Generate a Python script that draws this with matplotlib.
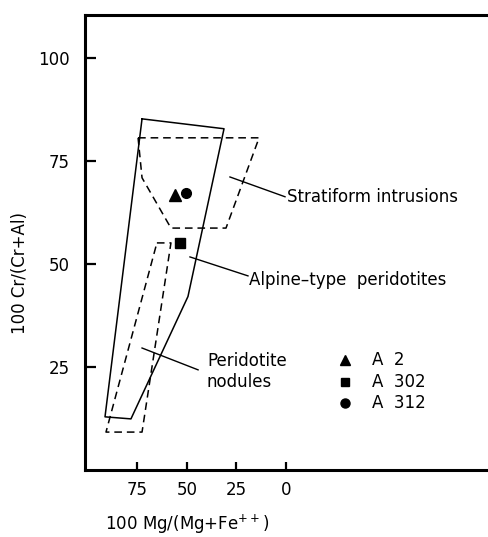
import matplotlib
matplotlib.use("Agg")
import matplotlib.pyplot as plt

plt.rcParams['font.family'] = ['DejaVu Sans']

# Fields (x = 100 Mg/(Mg+Fe++), y = 100 Cr/(Cr+Al))
alpine_x = [72.7, 31.3, 49.5, 78.3, 91.4]
alpine_y = [85.2, 82.8, 42.1, 12.4, 12.9]

strat_x = [74.7, 13.6, 30.3, 58.1, 72.7]
strat_y = [80.6, 80.6, 58.7, 58.7, 70.9]

nod_x = [65.2, 58.1, 72.7, 90.9]
nod_y = [55.1, 55.1, 9.2, 9.2]

# Samples
samples = ["A 2", "A 302", "A 312"]
sample_x = [56.1, 53.5, 50.5]
sample_y = [66.7, 55.1, 67.2]
sample_markers = ["^", "s", "o"]

xticks = [75, 50, 25, 0]
yticks = [25, 50, 75, 100]

fig = plt.figure(figsize=(4.88, 5.37), dpi=100)
ax = fig.add_axes([85/488, 67/537, 403/488, 455/537])
ax.set_xlim(101.5, -102)
ax.set_ylim(0, 110.4)

lw = 1.1
ax.fill([], [])
ax.plot(alpine_x + alpine_x[:1], alpine_y + alpine_y[:1], color='black', lw=lw)
ax.plot(strat_x + strat_x[:1], strat_y + strat_y[:1], color='black', lw=lw,
        linestyle=(0, (5, 3.2)))
ax.plot(nod_x + nod_x[:1], nod_y + nod_y[:1], color='black', lw=lw,
        linestyle=(0, (5, 3.2)))

msize = {"^": 8, "s": 6.5, "o": 7}
for x, y, m in zip(sample_x, sample_y, sample_markers):
    ax.plot([x], [y], marker=m, color='black', markersize=msize[m], linestyle='none')

# Leader lines and labels
fs = 12
ax.plot([28.3, 0.5], [71.1, 66.3], color='black', lw=1.0)
ax.text(-0.5, 66.3, "Stratiform intrusions", ha='left', va='center', fontsize=fs)
ax.plot([48.5, 19.2], [51.7, 47.1], color='black', lw=1.0)
ax.text(18.7, 46.1, "Alpine\u2013type  peridotites", ha='left', va='center', fontsize=fs)
ax.plot([72.7, 44.4], [29.6, 24.3], color='black', lw=1.0)
ax.text(39.9, 23.9, "Peridotite\nnodules", ha='left', va='center', fontsize=fs,
        linespacing=1.15)

# Legend
leg_y = [26.7, 21.4, 16.3]
leg_size = {"^": 7.5, "s": 5.5, "o": 6.5}
for lab, m, y in zip(samples, sample_markers, leg_y):
    ax.plot([-29.8], [y], marker=m, color='black', markersize=leg_size[m], linestyle='none')
    ax.text(-43.4, y, lab.replace(" ", "  "), ha='left', va='center', fontsize=fs)

ax.set_xticks(xticks)
ax.set_xticklabels([str(t) for t in xticks])
ax.set_yticks(yticks)
ax.set_yticklabels([str(t) for t in yticks])
ax.tick_params(axis='y', direction='in', length=8, width=1.6, pad=11, labelsize=fs)
ax.tick_params(axis='x', direction='in', length=6, width=1.6, pad=8, labelsize=fs)

ax.spines['right'].set_visible(False)
for s in ['left', 'bottom', 'top']:
    ax.spines[s].set_linewidth(2.2)

fig.text(187/488, 1 - 524/537, "100 Mg/(Mg+Fe$^{++}$)", ha='center', va='center', fontsize=fs)
fig.text(20/488, 1 - 273/537, "100 Cr/(Cr+Al)", ha='center', va='center',
         rotation=90, fontsize=fs)

fig.savefig("out.png", dpi=100)
